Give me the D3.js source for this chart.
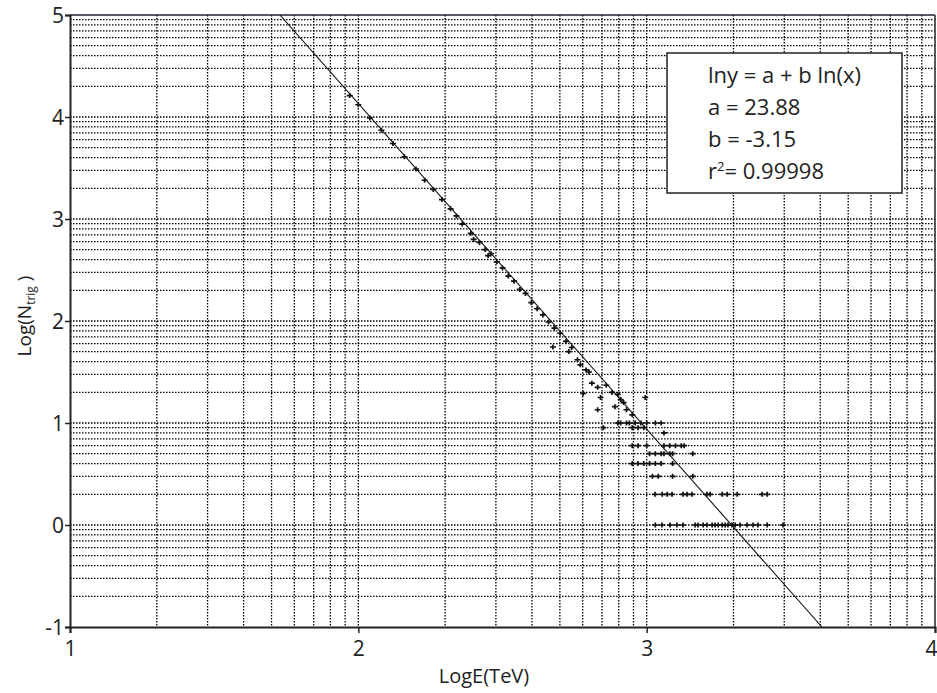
<!DOCTYPE html>
<html>
<head>
<meta charset="utf-8">
<script src="https://cdn.jsdelivr.net/npm/d3@7"></script>
<style>
  body { margin: 0; background: #fff; }
  svg text { font-family: "Open Sans", Lato, sans-serif; fill: #222; }
</style>
</head>
<body>
<div id="chart"></div>
<script>
// axis ranges and tick labels
var xTicks = [1, 2, 3, 4];
var yTicks = [-1, 0, 1, 2, 3, 4, 5];

// fit parameters shown in the box
var fitA = 23.88, fitB = -3.15, fitR2 = 0.99998;
// fit line end points
var fitX = [1.728, 3.608];
var fitY = [5, -1];

// measured points: LogE and Log(N_trig)
var logE = [
  1.97, 2.00, 2.04, 2.08, 2.12, 2.16, 2.20, 2.23, 2.26, 2.29, 2.32, 2.34, 2.36, 2.39, 2.40,
  2.42, 2.44, 2.45, 2.46, 2.48, 2.50, 2.52, 2.54, 2.56, 2.58, 2.60, 2.62, 2.64, 2.66, 2.68,
  2.70, 2.72, 2.74,
  2.675, 2.73, 2.76, 2.77, 2.79, 2.80, 2.78, 2.81, 2.83, 2.86, 2.88, 2.84, 2.90, 2.91, 2.92,
  2.89, 2.83, 2.93, 2.95, 2.995,
  2.90, 2.91, 2.93, 2.94, 2.96, 2.98, 3.00, 3.03, 3.05,
  2.85, 2.95, 2.97, 2.99,
  3.06,
  2.95, 2.97, 3.00, 3.06, 3.08, 3.10, 3.12, 3.13,
  3.01, 3.03, 3.05, 3.06, 3.08, 3.09, 3.16,
  2.95, 2.97, 2.99, 3.01, 3.03, 3.05, 3.09,
  3.02, 3.04, 3.09, 3.16,
  3.029, 3.054, 3.071, 3.088, 3.126, 3.140, 3.157, 3.209, 3.220, 3.262, 3.279, 3.314, 3.400, 3.418,
  3.03, 3.053, 3.081, 3.105, 3.126, 3.168, 3.178, 3.196, 3.209, 3.227, 3.237, 3.248, 3.262, 3.272,
  3.282, 3.296, 3.307, 3.324, 3.348, 3.369, 3.386, 3.418, 3.473
];
var logN = [
  4.21, 4.12, 3.99, 3.87, 3.74, 3.61, 3.49, 3.38, 3.29, 3.19, 3.10, 3.03, 2.95, 2.86, 2.80,
  2.77, 2.70, 2.64, 2.66, 2.58, 2.52, 2.44, 2.39, 2.31, 2.27, 2.18, 2.12, 2.06, 1.99, 1.93,
  1.88, 1.80, 1.74,
  1.745, 1.70, 1.62, 1.57, 1.52, 1.50, 1.29, 1.39, 1.35, 1.37, 1.30, 1.25, 1.28, 1.23, 1.20,
  1.16, 1.13, 1.13, 1.08, 1.25,
  1, 1, 1, 1, 1, 1, 1, 1, 1,
  0.954, 0.954, 0.954, 0.954,
  0.903,
  0.778, 0.778, 0.778, 0.778, 0.778, 0.778, 0.778, 0.778,
  0.699, 0.699, 0.699, 0.699, 0.699, 0.699, 0.699,
  0.602, 0.602, 0.602, 0.602, 0.602, 0.602, 0.602,
  0.477, 0.477, 0.477, 0.477,
  0.301, 0.301, 0.301, 0.301, 0.301, 0.301, 0.301, 0.301, 0.301, 0.301, 0.301, 0.301, 0.301, 0.301,
  0, 0, 0, 0, 0, 0, 0, 0, 0, 0, 0, 0, 0, 0,
  0, 0, 0, 0, 0, 0, 0, 0, 0
];

var W = 937, H = 693;
var margin = {top: 15, right: 2, bottom: 66, left: 70};
var width = W - margin.left - margin.right,
    height = H - margin.top - margin.bottom;

var svg = d3.select('#chart').append('svg')
    .attr('width', W)
    .attr('height', H);
var g = svg.append('g')
    .attr('transform', 'translate(' + margin.left + ',' + margin.top + ')');

var x = d3.scaleLinear().domain([1, 4]).range([0, width]);
var y = d3.scaleLinear().domain([-1, 5]).range([height, 0]);

// log-paper style grid: each unit split at log10(1..9)
var sub = d3.range(1, 10).map(function(k) { return Math.log10(k); });
var gridX = [], gridY = [];
d3.range(1, 4).forEach(function(u) { sub.forEach(function(s) { gridX.push(u + s); }); });
d3.range(-1, 5).forEach(function(u) { sub.forEach(function(s) { gridY.push(u + s); }); });

g.append('g').selectAll('line')
  .data(gridY.filter(function(d) { return d > -1; }))
  .join('line')
    .attr('x1', 0).attr('x2', width)
    .attr('y1', function(d) { return y(d); })
    .attr('y2', function(d) { return y(d); })
    .attr('stroke', '#000')
    .attr('stroke-width', 1.3)
    .attr('stroke-dasharray', '1.5,1.5');
g.append('g').selectAll('line')
  .data(gridX.filter(function(d) { return d > 1; }))
  .join('line')
    .attr('x1', function(d) { return x(d); })
    .attr('x2', function(d) { return x(d); })
    .attr('y1', 0).attr('y2', height)
    .attr('stroke', '#000')
    .attr('stroke-width', 1.3)
    .attr('stroke-dasharray', '1.5,1.5');

// frame
g.append('line').attr('x1', 0).attr('x2', width).attr('y1', 0).attr('y2', 0)
  .attr('stroke', '#223').attr('stroke-width', 1.5);
g.append('line').attr('x1', width).attr('x2', width).attr('y1', 0).attr('y2', height)
  .attr('stroke', '#222').attr('stroke-width', 1.5);

// axes
var yAxis = g.append('g')
  .call(d3.axisLeft(y).tickValues(yTicks).tickSize(5).tickFormat(function(d) { return String(d); }));
var xAxis = g.append('g')
  .attr('transform', 'translate(0,' + height + ')')
  .call(d3.axisBottom(x).tickValues(xTicks).tickSize(6).tickFormat(function(d) { return String(d); }));
[xAxis, yAxis].forEach(function(a) {
  a.select('.domain').attr('stroke', '#222').attr('stroke-width', 2);
  a.selectAll('.tick line').attr('stroke', '#222').attr('stroke-width', 1.5);
  a.selectAll('.tick text').attr('font-size', '21px')
    .style('font-family', '"Open Sans", sans-serif').attr('fill', '#222');
});
yAxis.selectAll('.tick text').attr('x', -6).attr('dy', '0.36em');
xAxis.selectAll('.tick text').attr('y', 14);
// last x label sits on the page edge
xAxis.selectAll('.tick text').filter(function(d) { return d === 4; })
  .attr('text-anchor', 'end').attr('dx', 2);

// clip for the fit line and points
g.append('clipPath').attr('id', 'plot-clip')
  .append('rect').attr('width', width).attr('height', height);

// fit line
g.append('path')
  .datum(d3.zip(fitX, fitY))
  .attr('clip-path', 'url(#plot-clip)')
  .attr('fill', 'none')
  .attr('stroke', '#111')
  .attr('stroke-width', 1.1)
  .attr('d', d3.line()
    .x(function(d) { return x(d[0]); })
    .y(function(d) { return y(d[1]); }));

// points as small crosses
g.append('g').selectAll('path')
  .data(d3.zip(logE, logN))
  .join('path')
    .attr('transform', function(d) { return 'translate(' + x(d[0]) + ',' + y(d[1]) + ')'; })
    .attr('d', 'M-3,0H3M0,-2.5V2.5')
    .attr('stroke', '#111')
    .attr('stroke-width', 1.7)
    .attr('fill', 'none');

// axis titles
svg.append('text')
  .attr('x', 484).attr('y', 683)
  .attr('text-anchor', 'middle')
  .attr('font-size', '20px')
  .text('LogE(TeV)');

var yt = svg.append('text')
  .attr('transform', 'translate(31,316) rotate(-90)')
  .attr('text-anchor', 'middle')
  .attr('font-size', '19px');
yt.append('tspan').text('Log(N');
yt.append('tspan').attr('font-size', '12px').attr('dy', 4).text('trig');
yt.append('tspan').attr('dy', -4).text(' )');

// fit parameter box
var box = svg.append('g').attr('transform', 'translate(667,53)');
box.append('rect')
  .attr('width', 235).attr('height', 140)
  .attr('fill', '#fff')
  .attr('stroke', '#222')
  .attr('stroke-width', 1.5);
var lines = [
  'lny = a + b ln(x)',
  'a = ' + fitA.toFixed(2),
  'b = ' + fitB.toFixed(2)
];
box.selectAll('text.fit')
  .data(lines)
  .join('text')
    .attr('class', 'fit')
    .attr('x', 41)
    .attr('y', function(d, i) { return 30 + i * 32; })
    .attr('font-size', '22px')
    .text(function(d) { return d; });
var r2 = box.append('text').attr('x', 41).attr('y', 126).attr('font-size', '22px');
r2.append('tspan').text('r');
r2.append('tspan').attr('font-size', '13px').attr('dy', -8).text('2');
r2.append('tspan').attr('dy', 8).text('= ' + fitR2);
</script>
</body>
</html>
